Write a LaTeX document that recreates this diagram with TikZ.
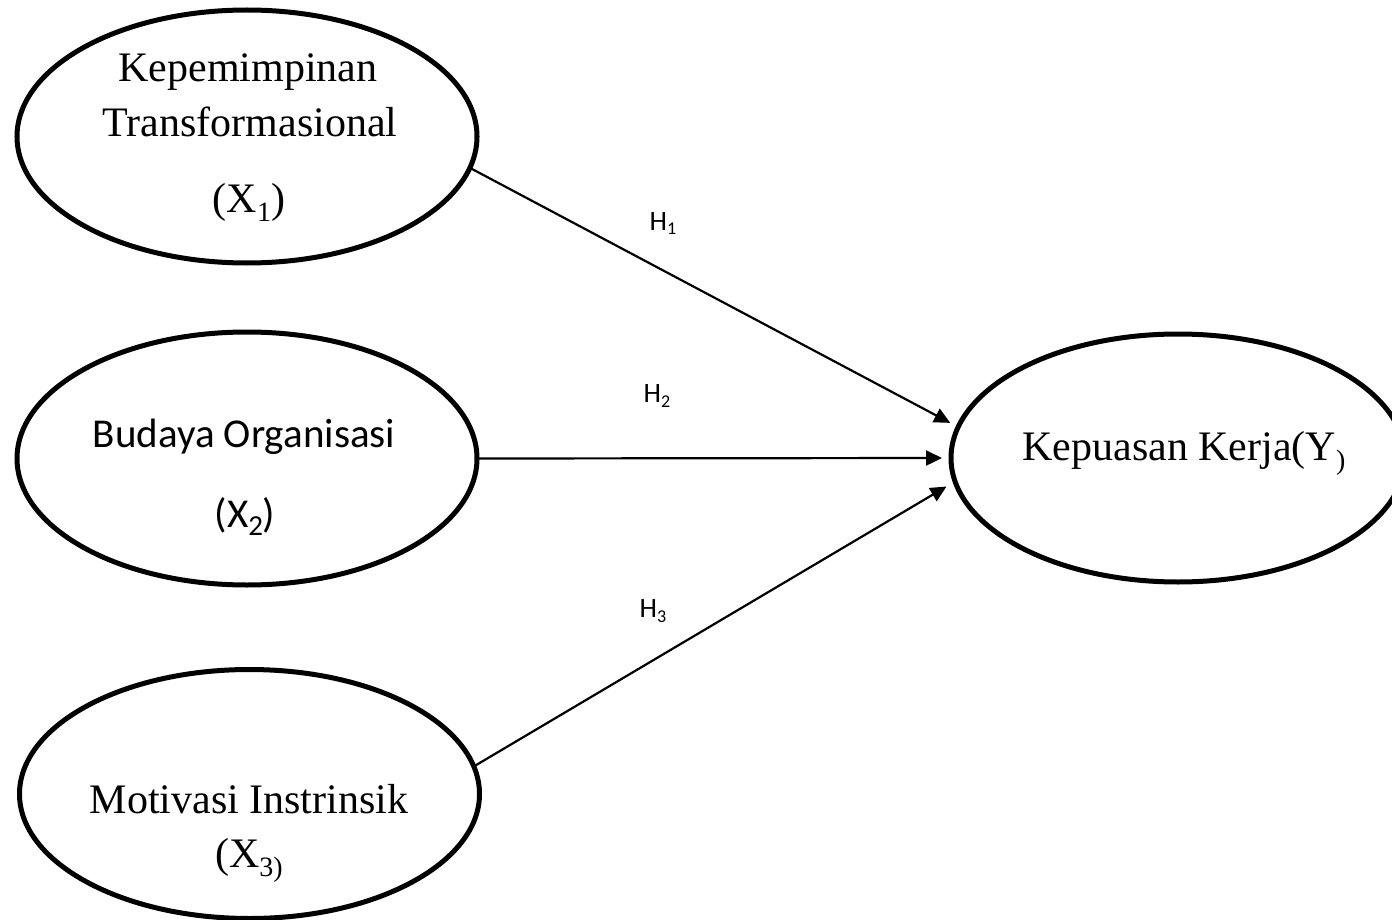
\documentclass[tikz,border=0pt]{standalone}
\usepackage{fontspec}
\setmainfont{Liberation Serif}
\newfontfamily\calib{Carlito}
\usetikzlibrary{shapes.geometric,arrows.meta}
\newcommand{\tsub}[1]{{\fontsize{28}{28}\selectfont\raisebox{-9pt}{#1}}}
\newcommand{\csub}[1]{{\fontsize{29}{29}\selectfont\raisebox{-8pt}{#1}}}
\newcommand{\hsub}[1]{{\fontsize{18}{18}\selectfont\raisebox{-5pt}{#1}}}
\begin{document}
\begin{tikzpicture}[x=1pt,y=-1pt,
  var/.style={ellipse,draw,line width=5pt,inner sep=0pt,outer sep=0pt,
    minimum width=460pt,minimum height=253pt},
  tms/.style={anchor=base,inner sep=0pt,font=\fontsize{42}{42}\selectfont},
  cal/.style={anchor=base,inner sep=0pt,font=\calib\fontsize{41}{41}\selectfont},
  hlab/.style={anchor=base,inner sep=0pt,font=\calib\fontsize{28}{28}\selectfont},
  conn/.style={line width=2.2pt,-{Triangle[length=16pt,width=15pt]}}]
\useasboundingbox (0,0) rectangle (1392,920);
% ellipses
\node[var] (x1) at (247,136.5) {};
\node[var] (x2) at (247,458.5) {};
\node[var,minimum height=249pt] (x3) at (249.5,794) {};
\node[var,minimum width=454pt,minimum height=248pt] (y) at (1178,458) {};
% texts
\node[tms] (t1a) at (248,82) {Kepemimpinan};
\node[tms] (t1b) at (250,137) {Transformasional};
\node[tms] (t1c) at (249,213) {(X\tsub{1})};
\node[cal] (t2a) at (244,447) {Budaya Organisasi};
\node[cal] (t2b) at (245,527) {(X\csub{2})};
\node[tms] (t3a) at (249,813) {Motivasi Instrinsik};
\node[tms] (t3b) at (249,867) {(X\tsub{3)}};
\node[tms] (ty) at (1184,460) {Kepuasan Kerja(Y\tsub{)}};
% connectors
\draw[conn,shorten >=9pt] (x1.-8) -- (y.172.6);
\draw[conn,shorten >=9pt] (x2.east) -- (y.west);
\draw[conn,shorten >=10pt] (x3.7.6) -- (y.186.6);
% labels
\node[hlab] (h1) at (663,230) {H\hsub{1}};
\node[hlab] (h2) at (657,402) {H\hsub{2}};
\node[hlab] (h3) at (653,617) {H\hsub{3}};
\end{tikzpicture}
\end{document}
